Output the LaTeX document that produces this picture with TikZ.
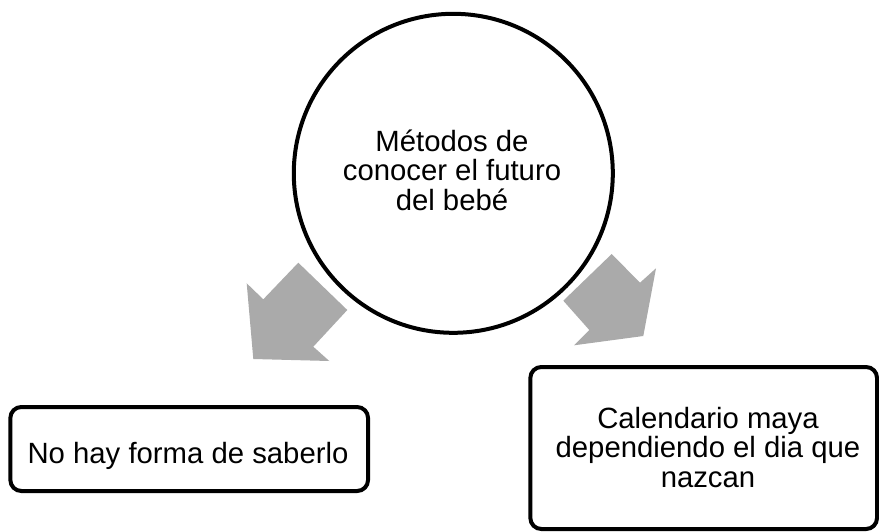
\documentclass[tikz,border=0pt]{standalone}
\usepackage{fontspec}
\setmainfont{Liberation Sans}
\definecolor{arrowgray}{RGB}{170,170,170}
\begin{document}
\begin{tikzpicture}[x=1pt,y=-1pt,
  txt/.style={font=\fontsize{29.3}{29.4}\selectfont, align=center, inner sep=0pt},
  bubble/.style={circle, draw=black, fill=white, line width=4pt, minimum size=319pt, inner sep=0pt},
  boxnode/.style={draw=black, fill=white, line width=4pt, rounded corners=11pt, inner sep=0pt},
  blockarrow/.style={fill=arrowgray, draw=none}]
\useasboundingbox (0,0) rectangle (879,531);
\fill[white] (0,0) rectangle (879,531);
% block arrows
\fill[blockarrow] (298.3,262.7) -- (347.3,310) -- (313.3,346.7) -- (329.3,361) -- (253.3,359) -- (246.7,283.3) -- (263.3,299.3) -- cycle;
\fill[blockarrow] (611.7,254) -- (640,282.7) -- (656,268.3) -- (643.3,336) -- (574,345.3) -- (589.3,330) -- (563.3,300.7) -- cycle;
% shapes
\node[bubble] (center) at (453.3,173.3) {};
\node[boxnode, minimum width=357.7pt, minimum height=84pt] (left) at (189.2,449) {};
\node[boxnode, minimum width=346.7pt, minimum height=162pt] (right) at (703.7,448) {};
% texts
\node[txt] (centertext) at (452,170) {Métodos de\\conocer el futuro\\del bebé};
\node[txt, anchor=base] (lefttext) at (188,463.3) {No hay forma de saberlo};
\node[txt] (righttext) at (708,447.3) {Calendario maya\\dependiendo el dia que\\nazcan};
\end{tikzpicture}
\end{document}
